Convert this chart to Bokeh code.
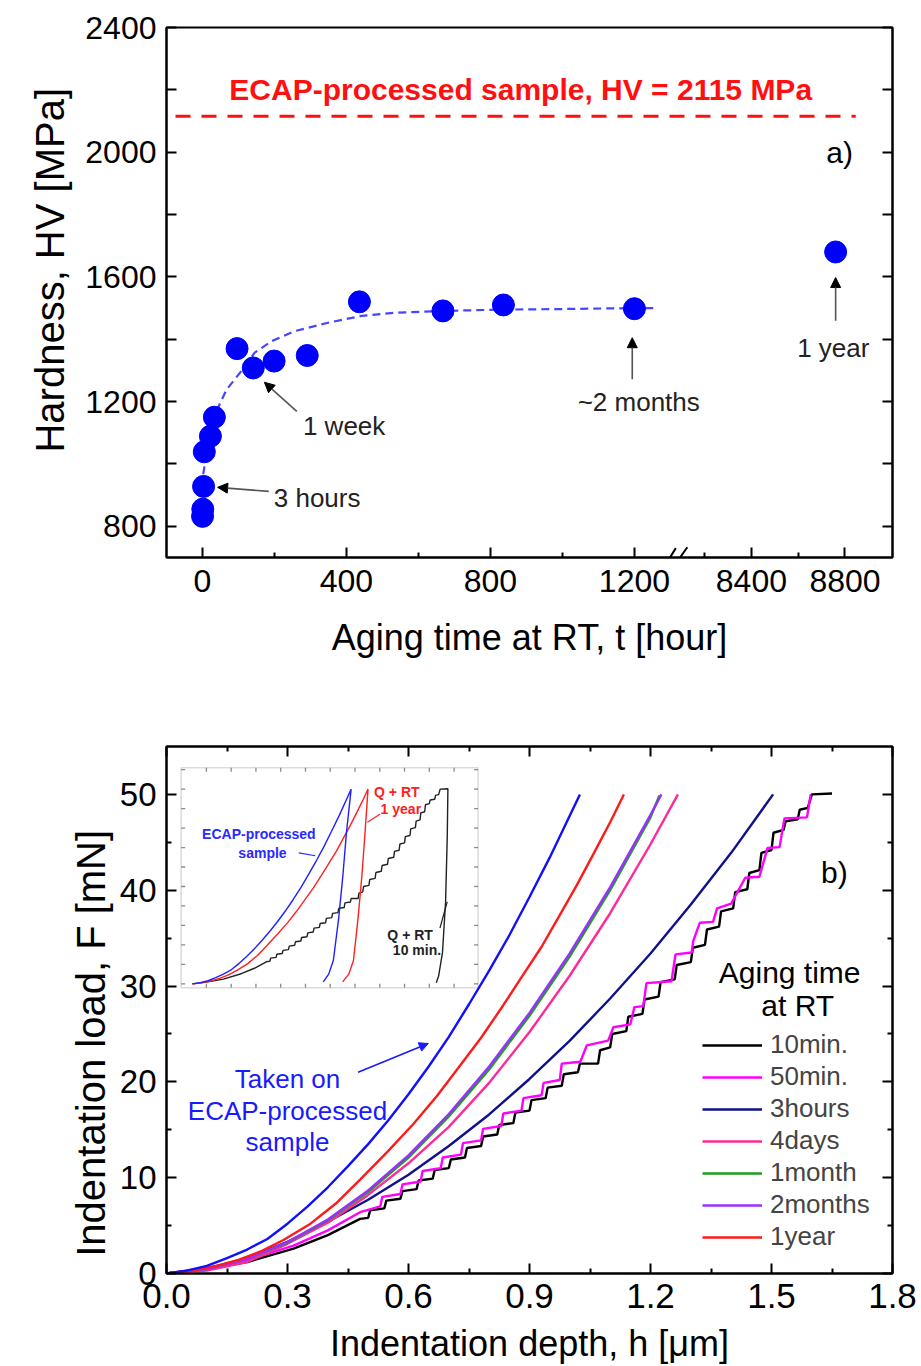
from bokeh.plotting import figure
from bokeh.models import (Range1d, FixedTicker, LinearAxis, Arrow, NormalHead, Label,
                          Legend, LegendItem, PrintfTickFormatter, CustomJSTickFormatter,
                          BoxAnnotation)
from bokeh.layouts import column
from bokeh.embed import file_html
from bokeh.resources import INLINE

FONT = "Liberation Sans"
NBSP = "\u00a0"

# ---------------- (a) hardness vs aging time ----------------
AGING_T = [0.17, 0.83, 3, 5, 22, 33, 96, 141, 199, 291, 436, 668, 836, 1200, 8760]
HARDNESS = [832, 855, 928, 1039, 1089, 1150, 1370, 1308, 1330, 1348, 1520, 1491, 1510, 1498, 1680]
FIT_T = [2, 20, 34, 43, 67, 108, 145, 192, 256, 349, 442, 534, 668, 830, 1000, 1200, 1265]
FIT_HV = [967, 1100, 1150, 1180, 1239, 1298, 1357, 1394, 1426, 1453, 1475, 1485, 1491, 1495, 1497, 1500, 1500]
ECAP_HV = 2115
ECAP_SPAN_T = [-75, 8846]
XA_MAJOR = [0, 400, 800, 1200, 8400, 8800]
XA_MINOR = [200, 600, 1000, 8200, 8600]
YA_MAJOR = [800, 1200, 1600, 2000, 2400]
YA_MINOR = [1000, 1400, 1800, 2200]

# broken time axis: below the break t is used directly, above it is compressed
BREAK_T, BREAK_U, BREAK_SCALE = 8400, 1525, 0.65


def tx(t):
    return t if t < 5000 else BREAK_U + (t - BREAK_T) * BREAK_SCALE


# ---------------- (b) load-depth curves ----------------
H_ECAP = [0, 0.05, 0.10, 0.15, 0.20, 0.25, 0.30, 0.35, 0.40, 0.45, 0.50, 0.55, 0.60, 0.65,
          0.70, 0.75, 0.80, 0.85, 0.90, 0.95, 1.00, 1.025]
F_ECAP = [0, 0.3, 0.8, 1.6, 2.5, 3.6, 5.2, 7.0, 9.0, 11.2, 13.5, 16.0, 18.7, 21.6,
          24.7, 28.1, 31.6, 35.3, 39.3, 43.4, 47.8, 50]
H_1Y = [0, 0.06, 0.12, 0.18, 0.233, 0.29, 0.357, 0.42, 0.48, 0.55, 0.612, 0.67, 0.728, 0.78,
        0.835, 0.88, 0.93, 0.975, 1.017, 1.06, 1.10, 1.134]
F_1Y = [0, 0.25, 0.75, 1.45, 2.3, 3.5, 5.2, 7.3, 9.8, 12.8, 15.6, 18.5, 21.7, 24.6,
        28.0, 30.9, 34.1, 37.4, 40.5, 43.9, 47.1, 50]
H_2M = [0, 0.1, 0.2, 0.3, 0.4, 0.5, 0.6, 0.7, 0.8, 0.9, 1.0, 1.1, 1.2, 1.227]
F_2M = [0, 0.44, 1.53, 3.27, 5.64, 8.67, 12.33, 16.64, 21.6, 27.2, 33.44, 40.33, 47.86, 50]
H_1M = [0, 0.1, 0.2, 0.3, 0.4, 0.5, 0.6, 0.7, 0.8, 0.9, 1.0, 1.1, 1.2, 1.222]
F_1M = [0, 0.45, 1.55, 3.2, 5.55, 8.5, 12.1, 16.4, 21.3, 26.9, 33.1, 40.0, 47.6, 49.9]
H_4D = [0, 0.1, 0.2, 0.3, 0.4, 0.5, 0.6, 0.7, 0.8, 0.9, 1.0, 1.1, 1.2, 1.268]
F_4D = [0, 0.3, 1.2, 3.1, 5.3, 8.2, 11.5, 15.3, 19.9, 25.2, 31.1, 37.6, 44.8, 50]
H_3H = [0, 0.1, 0.2, 0.3, 0.4, 0.5, 0.6, 0.7, 0.8, 0.9, 1.0, 1.1, 1.2, 1.3, 1.4, 1.504]
F_3H = [0, 0.5, 1.6, 3.3, 5.4, 7.7, 10.3, 13.3, 16.6, 20.3, 24.3, 28.7, 33.4, 38.5, 43.9, 50]
H_50M = [0, 0.10, 0.20, 0.315, 0.40, 0.48, 0.53, 0.535, 0.58, 0.585, 0.63, 0.635, 0.68, 0.685,
         0.73, 0.735, 0.78, 0.785, 0.83, 0.835, 0.88, 0.885, 0.93, 0.935, 0.975, 0.98, 1.026,
         1.042, 1.095, 1.108, 1.15, 1.16, 1.182, 1.19, 1.252, 1.262, 1.302, 1.306, 1.322, 1.355,
         1.365, 1.40, 1.435, 1.47, 1.49, 1.52, 1.532, 1.588, 1.597]
F_50M = [0, 0.6, 1.4, 2.9, 4.5, 6.4, 7.0, 8.0, 8.3, 9.3, 9.6, 10.7, 11.0, 12.1,
         12.4, 13.6, 13.9, 15.1, 15.4, 16.7, 17.0, 18.3, 18.6, 19.9, 20.2, 21.9, 22.1,
         23.8, 24.3, 25.7, 26.0, 27.8, 27.9, 30.3, 30.5, 33.3, 33.5, 34.7, 36.6, 36.7,
         38.1, 38.6, 41.3, 41.4, 44.4, 44.5, 47.5, 47.6, 50.0]
H_10M = [0, 0.10, 0.20, 0.315, 0.40, 0.48, 0.50, 0.505, 0.54, 0.545, 0.58, 0.585, 0.62, 0.625,
         0.66, 0.665, 0.70, 0.705, 0.74, 0.745, 0.78, 0.785, 0.82, 0.825, 0.86, 0.865, 0.90,
         0.905, 0.94, 0.945, 0.98, 0.985, 1.02, 1.025, 1.07, 1.075, 1.10, 1.105, 1.14, 1.145,
         1.18, 1.185, 1.22, 1.225, 1.26, 1.265, 1.30, 1.305, 1.335, 1.34, 1.37, 1.375, 1.405,
         1.41, 1.44, 1.445, 1.47, 1.475, 1.50, 1.505, 1.53, 1.535, 1.565, 1.57, 1.59, 1.60, 1.65]
F_10M = [0, 0.5, 1.2, 2.6, 4.0, 5.7, 5.8, 6.6, 6.8, 7.6, 7.8, 8.6, 8.8, 9.7,
         9.9, 10.8, 11.0, 11.9, 12.1, 13.1, 13.3, 14.3, 14.5, 15.5, 15.7, 16.8, 17.0,
         18.1, 18.3, 19.4, 19.6, 20.8, 21.0, 21.9, 21.9, 23.3, 23.6, 25.0, 25.3, 26.8,
         27.1, 28.6, 28.9, 30.4, 30.7, 32.2, 32.5, 34.0, 34.3, 35.9, 36.2, 37.8, 38.1,
         39.8, 40.1, 41.8, 42.1, 43.9, 44.2, 46.0, 46.3, 47.2, 47.4, 48.4, 48.6, 50.0, 50.1]

SERIES = [
    ("10min.", H_10M, F_10M, "#000000"),
    ("50min.", H_50M, F_50M, "#ff00ff"),
    ("3hours", H_3H, F_3H, "#10108c"),
    ("4days", H_4D, F_4D, "#ff2a9a"),
    ("1month", H_1M, F_1M, "#1f9e1f"),
    ("2months", H_2M, F_2M, "#9a30ff"),
    ("1year", H_1Y, F_1Y, "#ff1a1a"),
]

# inset: loading + unloading
UNL_H_ECAP = [1.025, 0.995, 0.972, 0.945, 0.91, 0.88, 0.845]
UNL_F_ECAP = [50, 39, 28, 17, 6, 2.5, 0.5]
UNL_H_1Y = [1.134, 1.115, 1.095, 1.07, 1.04, 1.01, 0.97]
UNL_F_1Y = [50, 39, 28, 17, 6, 2.5, 0.5]
UNL_H_10M = [1.65, 1.646, 1.635, 1.615, 1.59, 1.575]
UNL_F_10M = [50.1, 38, 21, 8, 2, 0.3]
INSET_XR = (-0.073, 1.845)
INSET_YR = (-1.0, 55.5)
# inset placement inside panel (b): main = offset + scale * inset
INSET_X0, INSET_XS = 0.0644, 0.3838
INSET_Y0, INSET_YS = 30.23, 0.4064


def ix(v):
    return [INSET_X0 + INSET_XS * a for a in v]


def iy(v):
    return [INSET_Y0 + INSET_YS * a for a in v]


def style_axis(ax, title_size, tick_size, maj_in=10, min_in=5):
    ax.axis_line_width = 2
    ax.axis_line_color = "black"
    ax.major_tick_line_width = 2
    ax.minor_tick_line_width = 2
    ax.major_tick_line_color = "black"
    ax.minor_tick_line_color = "black"
    ax.major_tick_in = maj_in
    ax.major_tick_out = 0
    ax.minor_tick_in = min_in
    ax.minor_tick_out = 0
    ax.major_label_text_font = FONT
    ax.major_label_text_font_size = tick_size
    ax.major_label_text_color = "black"
    ax.axis_label_text_font = FONT
    ax.axis_label_text_font_size = title_size
    ax.axis_label_text_font_style = "normal"
    ax.axis_label_text_color = "black"


def blank_axis(ticker, maj_in=10, min_in=5):
    ax = LinearAxis(ticker=ticker, formatter=CustomJSTickFormatter(code="return ''"))
    style_axis(ax, "10px", "10px", maj_in, min_in)
    ax.major_label_standoff = 0
    return ax


def note(p, x, y, text, size="26px", align="left", color="#222222", style="normal"):
    p.add_layout(Label(x=x, y=y, text=text, text_font=FONT, text_font_size=size,
                       text_font_style=style, text_color=color, text_align=align,
                       text_baseline="middle"))


def arrow(p, x0, y0, x1, y1, color="#555555", head="black", width=1.6, size=10):
    p.add_layout(Arrow(x_start=x0, y_start=y0, x_end=x1, y_end=y1, line_color=color, line_width=width,
                       end=NormalHead(size=size, fill_color=head, line_color=head)))


# =============== figure (a) ===============
p1 = figure(width=921, height=680, x_range=Range1d(-100, 1917), y_range=Range1d(700, 2400),
            output_backend="svg", toolbar_location=None,
            min_border_left=166, min_border_right=29, min_border_top=27, min_border_bottom=123)
p1.xgrid.visible = False
p1.ygrid.visible = False
p1.outline_line_color = "black"
p1.outline_line_width = 2

xa = p1.xaxis[0]
style_axis(xa, "36px", "32px")
xa.ticker = FixedTicker(ticks=[tx(t) for t in XA_MAJOR], minor_ticks=[tx(t) for t in XA_MINOR])
xa.major_label_overrides = {tx(t): str(t) for t in XA_MAJOR}
xa.axis_label = "Aging time at RT, t [hour]"
xa.major_label_standoff = 12
xa.axis_label_standoff = 22

ya = p1.yaxis[0]
style_axis(ya, "40px", "32px", 10, 10)
ya.ticker = FixedTicker(ticks=YA_MAJOR, minor_ticks=YA_MINOR)
# leading no-break spaces shift the rotated title up to where the reference has it
ya.axis_label = NBSP * 4 + "Hardness, HV [MPa]"
ya.major_label_standoff = 10
ya.axis_label_standoff = 10
p1.add_layout(blank_axis(FixedTicker(ticks=YA_MAJOR, minor_ticks=YA_MINOR), 10, 10), "right")

# red reference line
p1.line([tx(t) for t in ECAP_SPAN_T], [ECAP_HV, ECAP_HV], line_color="#ff1010", line_width=3,
        line_dash="15 11")
note(p1, 884, ECAP_HV + 85, "ECAP-processed sample, HV = 2115 MPa", size="30px",
     align="center", color="#ff1010", style="bold")

# fit curve and data
p1.line([tx(t) for t in FIT_T], FIT_HV, line_color="#4646ff", line_width=2.2, line_dash="8 5")
p1.scatter([tx(t) for t in AGING_T], HARDNESS, size=22, fill_color="#0000ff", line_color="#0000ff")

# break marks
for (xs, ys) in (((1278, 1315), (661, 730)), ((1306, 1347), (666, 733))):
    p1.add_layout(Arrow(x_start=xs[0], y_start=ys[0], x_end=xs[1], y_end=ys[1], end=None,
                        line_color="black", line_width=2))

note(p1, 1770, 2000, "a)", size="30px", align="center", color="black")
note(p1, 198, 890, "3 hours")
arrow(p1, 184, 912, 42, 925)
note(p1, 279, 1121, "1 week")
arrow(p1, 262, 1169, 172, 1262)
note(p1, 1212, 1198, "~2 months", align="center")
arrow(p1, 1194, 1272, 1194, 1405)
note(p1, tx(8750), 1372, "1 year", align="center")
arrow(p1, tx(8760), 1459, tx(8760), 1598)

# =============== figure (b) ===============
p2 = figure(width=921, height=686, x_range=Range1d(0, 1.8), y_range=Range1d(0, 55),
            output_backend="svg", toolbar_location=None,
            min_border_left=166, min_border_right=27, min_border_top=66, min_border_bottom=91)
p2.xgrid.visible = False
p2.ygrid.visible = False
p2.outline_line_color = "black"
p2.outline_line_width = 2

XB_MAJOR = [0, 0.3, 0.6, 0.9, 1.2, 1.5, 1.8]
XB_MINOR = [0.15, 0.45, 0.75, 1.05, 1.35, 1.65]
YB_MAJOR = [0, 10, 20, 30, 40, 50]
YB_MINOR = [5, 15, 25, 35, 45]

xb = p2.xaxis[0]
style_axis(xb, "36px", "35px")
xb.ticker = FixedTicker(ticks=XB_MAJOR, minor_ticks=XB_MINOR)
xb.formatter = PrintfTickFormatter(format="%.1f")
xb.axis_label = "Indentation depth, h [μm]"
xb.major_label_standoff = 10
xb.axis_label_standoff = 12

yb = p2.yaxis[0]
style_axis(yb, "40px", "33px")
yb.ticker = FixedTicker(ticks=YB_MAJOR, minor_ticks=YB_MINOR)
# trailing no-break spaces shift the rotated title down to where the reference has it
yb.axis_label = "Indentation load, F [mN]" + NBSP * 6
yb.major_label_standoff = 10
yb.axis_label_standoff = 4
p2.add_layout(blank_axis(FixedTicker(ticks=YB_MAJOR, minor_ticks=YB_MINOR)), "right")
p2.add_layout(blank_axis(FixedTicker(ticks=XB_MAJOR, minor_ticks=XB_MINOR)), "above")

# ---- inset frame (drawn underneath) ----
ix0, ix1 = ix(INSET_XR)
iy0, iy1 = iy(INSET_YR)
p2.add_layout(BoxAnnotation(left=ix0, right=ix1, bottom=iy0, top=iy1, fill_alpha=0,
                            line_color="#8a8a8a", line_width=1.6, level="underlay"))
INSET_YT = [0, 5, 10, 15, 20, 25, 30, 35, 40, 45, 50, 55]
INSET_XT = [0.09, 0.25, 0.41, 0.57, 0.73, 0.89, 1.05, 1.21, 1.37, 1.53, 1.69]
tl_x = 4 / 404.0
tl_y = 4 / 9.62
ytk = iy(INSET_YT)
xtk = ix(INSET_XT)
p2.segment([ix0] * len(ytk), ytk, [ix0 + tl_x] * len(ytk), ytk, line_color="#8a8a8a", line_width=1.3)
p2.segment([ix1] * len(ytk), ytk, [ix1 - tl_x] * len(ytk), ytk, line_color="#8a8a8a", line_width=1.3)
p2.segment(xtk, [iy0] * len(xtk), xtk, [iy0 + tl_y] * len(xtk), line_color="#8a8a8a", line_width=1.3)
p2.segment(xtk, [iy1] * len(xtk), xtk, [iy1 - tl_y] * len(xtk), line_color="#8a8a8a", line_width=1.3)

p2.line(ix(H_10M + UNL_H_10M), iy(F_10M + UNL_F_10M), line_color="#222222", line_width=1.4)
p2.line(ix(H_1Y + UNL_H_1Y), iy(F_1Y + UNL_F_1Y), line_color="#ff2020", line_width=1.4)
p2.line(ix(H_ECAP + UNL_H_ECAP), iy(F_ECAP + UNL_F_ECAP), line_color="#2020ff", line_width=1.4)

note(p2, 0.229, 45.86, "ECAP-processed", size="14px", align="center", color="#2a2aff", style="bold")
note(p2, 0.238, 43.9, "sample", size="14px", align="center", color="#2a2aff", style="bold")
p2.segment([0.328], [43.9], [0.369], [43.6], line_color="#2a2aff", line_width=1.2)
note(p2, 0.571, 50.2, "Q + RT", size="14px", align="center", color="#ff2020", style="bold")
note(p2, 0.581, 48.5, "1 year", size="14px", align="center", color="#ff2020", style="bold")
p2.segment([0.530], [47.96], [0.498], [47.1], line_color="#ff2020", line_width=1.2)
note(p2, 0.604, 35.37, "Q + RT", size="14px", align="center", color="#222222", style="bold")
note(p2, 0.621, 33.8, "10 min.", size="14px", align="center", color="#222222", style="bold")
p2.segment([0.678], [36.06], [0.696], [38.8], line_color="#222222", line_width=1.2)

# ---- main curves ----
renderers = {}
for name, hs, fs, col in SERIES:
    renderers[name] = p2.line(hs, fs, line_color=col, line_width=2.4)
p2.line(H_ECAP, F_ECAP, line_color="#1010ff", line_width=2.4)

legend = Legend(items=[LegendItem(label=n, renderers=[renderers[n]]) for n, _, _, _ in SERIES],
                location=(536, 21), label_text_font=FONT, label_text_font_size="26px",
                glyph_width=60, glyph_height=30, label_height=30, spacing=1, padding=0, margin=0,
                label_standoff=8, border_line_alpha=0, background_fill_alpha=0)
p2.add_layout(legend)
note(p2, 1.545, 31.4, "Aging time", size="30px", align="center", color="black")
note(p2, 1.565, 27.95, "at RT", size="30px", align="center", color="black")
note(p2, 1.656, 41.85, "b)", size="30px", align="center", color="black")

note(p2, 0.30, 20.3, "Taken on", color="#1a1aff", align="center")
note(p2, 0.30, 17.0, "ECAP-processed", color="#1a1aff", align="center")
note(p2, 0.30, 13.7, "sample", color="#1a1aff", align="center")
arrow(p2, 0.475, 21.0, 0.649, 24.0, color="#1a1aff", head="#1a1aff", width=1.6, size=9)

layout = column(p1, p2, spacing=0)
open("out.html", "w").write(file_html(layout, INLINE))
